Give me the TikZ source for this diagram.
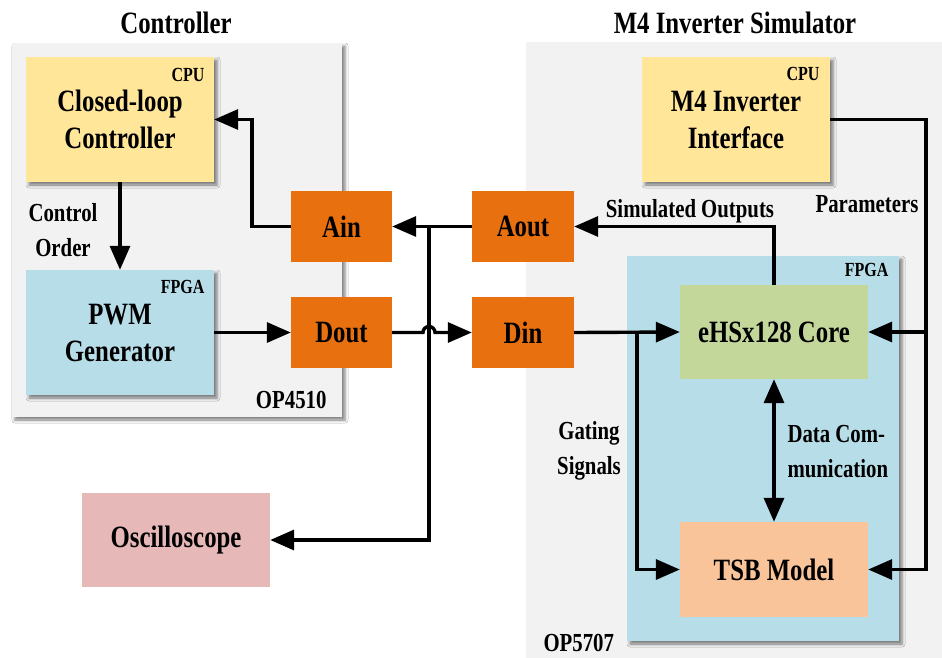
\documentclass[tikz,border=0pt]{standalone}
\usepackage{fontspec}
\setmainfont{Liberation Serif}[FakeStretch=0.8]
\usetikzlibrary{arrows.meta,shadows.blur,calc}
\newcommand\fontA{\fontsize{31}{37}\selectfont\bfseries}
\newcommand\fontB{\fontsize{26}{35}\selectfont\bfseries}
\newcommand\fontC{\fontsize{20}{24}\selectfont\bfseries}
\definecolor{panelgray}{HTML}{F2F2F2}
\definecolor{cpuyellow}{HTML}{FFE699}
\definecolor{fpgablue}{HTML}{B7DDE8}
\definecolor{ioorange}{HTML}{E8700F}
\definecolor{coregreen}{HTML}{C4D79B}
\definecolor{tsbpeach}{HTML}{F9C499}
\definecolor{oscpink}{HTML}{E6B9B8}
\begin{document}
\begin{tikzpicture}[x=1pt,y=-1pt,
  box/.style={rectangle, inner sep=0pt, align=center, font=\fontA},
  shad/.style={blur shadow={shadow xshift=3pt, shadow yshift=-3pt, shadow blur radius=3pt, shadow opacity=50}},
  conn/.style={line width=3.4pt, -{Triangle[length=24pt,width=20pt]}},
  dbl/.style={line width=3.4pt, {Triangle[length=24pt,width=20pt]}-{Triangle[length=24pt,width=20pt]}},
  lbl/.style={font=\fontB, align=center},
  tag/.style={font=\fontC, anchor=base east}]
\useasboundingbox (0,0) rectangle (942,657);
\fill[white] (0,0) rectangle (942,657);

% panels
\node[box, shad, fill=panelgray, minimum width=330pt, minimum height=374pt] (P1) at (177,230) {};
\node[box, shad, fill=panelgray, minimum width=418pt, minimum height=616pt] (P2) at (735,350) {};
\node[box, shad, fill=fpgablue, minimum width=272pt, minimum height=385pt] (F2) at (763,448.5) {};

% titles
\node[font=\fontA, anchor=base] (T1) at (176,33) {Controller};
\node[font=\fontA, anchor=base] (T2) at (735,33) {M4 Inverter Simulator};

% controller boxes
\node[box, shad, fill=cpuyellow, minimum width=188pt, minimum height=125pt] (CL) at (120,119.5) {Closed-loop\\Controller};
\node[tag] (cpu1) at (208,81) {CPU};
\node[box, shad, fill=fpgablue, minimum width=188pt, minimum height=125pt] (PWM) at (120,332.5) {PWM\\Generator};
\node[tag] (fpga1) at (208,293) {FPGA};
\node[font=\fontB, anchor=base east] (op1) at (330,408) {OP4510};

% IO boxes
\node[box, fill=ioorange, minimum width=101pt, minimum height=71pt] (Ain) at (341.5,226.5) {Ain};
\node[box, fill=ioorange, minimum width=101pt, minimum height=71pt] (Dout) at (341.5,332.5) {Dout};
\node[box, fill=ioorange, minimum width=102pt, minimum height=71pt] (Aout) at (523,226.5) {Aout};
\node[box, fill=ioorange, minimum width=102pt, minimum height=71pt] (Din) at (523,332.5) {Din};

% simulator boxes
\node[box, shad, fill=cpuyellow, minimum width=188pt, minimum height=125pt] (M4) at (736,119.5) {M4 Inverter\\Interface};
\node[tag] (cpu2) at (823,80) {CPU};
\node[tag] (fpga2) at (892,276) {FPGA};
\node[box, fill=coregreen, minimum width=188pt, minimum height=94pt] (Core) at (774,332) {eHSx128 Core};
\node[box, fill=tsbpeach, minimum width=188pt, minimum height=95pt] (TSB) at (774,569.5) {TSB Model};
\node[font=\fontB, anchor=base west] (op2) at (540,651) {OP5707};

% oscilloscope
\node[box, fill=oscpink, minimum width=188pt, minimum height=94pt] (Osc) at (176,540) {Oscilloscope};

% connector labels
\node[lbl] (l1) at (63,230) {Control\\Order};
\node[lbl, anchor=base] (l2) at (690,217) {Simulated Outputs};
\node[lbl, anchor=base] (l3) at (867,212) {Parameters};
\node[lbl] (l4) at (589,451) {Gating\\Signals};
\node[lbl, align=left, anchor=west] (l5) at (784,452) {Data Com-\\munication};

% coordinates
\coordinate (J1) at (429,226.5);
\coordinate (X) at (429,332.5);
\coordinate (G) at (637,332.5);
\coordinate (PR) at (926,332);

% connectors
\draw[conn] (CL.south) -- (PWM.north);
\draw[conn] (Ain.west) -- ++(-39,0) |- (CL.east);
\draw[conn] (PWM.east) -- (Dout.west);
\draw[conn] (Aout.west) -- (Ain.east);
\draw[conn] (J1) |- (Osc.east);
\draw[conn] (Dout.east) -- ([xshift=-6pt]X) arc[start angle=180, end angle=0, radius=6pt] -- (Din.west);
\draw[conn] (Core.north) |- (Aout.east);
\draw[conn] (Din.east) -- (Core.west);
\draw[conn] (G) |- (TSB.west);
\draw[conn] (M4.east) -| (PR) |- (TSB.east);
\draw[conn] (PR) -- (Core.east);
\draw[dbl] (Core.south) -- (TSB.north);
\end{tikzpicture}
\end{document}
